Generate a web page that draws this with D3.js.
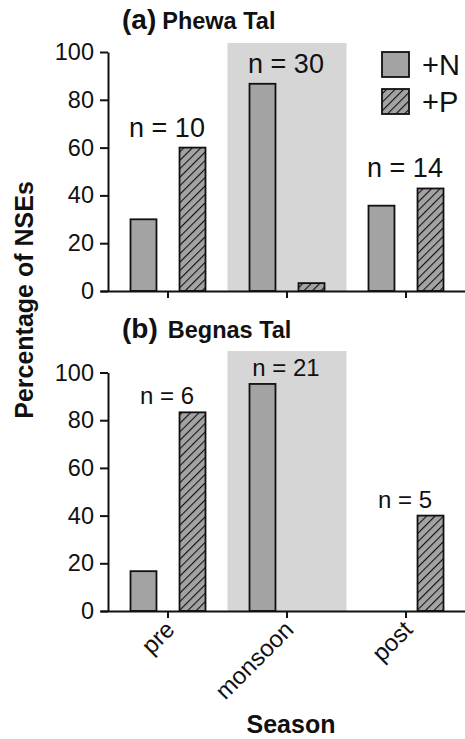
<!DOCTYPE html>
<html><head><meta charset="utf-8">
<script src="https://cdn.jsdelivr.net/npm/d3@7"></script>
<style>body{margin:0;background:#fff}svg{display:block;font-family:"Liberation Sans",Arial,sans-serif}</style>
</head><body>
<svg id="c" width="465" height="739"></svg>
<script>
const seasons = ["pre", "monsoon", "post"];
const series = ["+N", "+P"];
const phewaN = [30, 86.7, 35.7];
const phewaP = [60, 3.3, 42.9];
const phewaCounts = ["n = 10", "n = 30", "n = 14"];
const begnasN = [16.7, 95.2, 0];
const begnasP = [83.3, 0, 40];
const begnasCounts = ["n = 6", "n = 21", "n = 5"];
const yTicks = [0, 20, 40, 60, 80, 100];

const svg = d3.select("#c");
const defs = svg.append("defs");
const pat = defs.append("pattern").attr("id","hatch").attr("patternUnits","userSpaceOnUse")
  .attr("width",6).attr("height",6).attr("patternTransform","rotate(45)");
pat.append("rect").attr("width",6).attr("height",6).attr("fill","#a3a3a3");
pat.append("line").attr("x1",0).attr("y1",0).attr("x2",0).attr("y2",6).attr("stroke","#111").attr("stroke-width",2.2);

const x = d3.scaleBand().domain(seasons).range([108.5, 465.5]);
const sub = d3.scaleBand().domain(series).range([-37.5, 37.5]).paddingInner(0.47);

const panels = [
  {title:"(a)", name:"Phewa Tal", N:phewaN, P:phewaP, counts:phewaCounts, y0:291, y1:52, titleY:29, shadeTop:43, nSize:27, nGap:11, gap:6},
  {title:"(b)", name:"Begnas Tal", N:begnasN, P:begnasP, counts:begnasCounts, y0:611, y1:372.5, titleY:338, shadeTop:351, nSize:24, nGap:8, gap:10}
];

panels.forEach((p, pi) => {
  const y = d3.scaleLinear().domain([0,100]).range([p.y0, p.y1]);
  const g = svg.append("g");
  g.append("rect").attr("x", x("monsoon")).attr("width", x.bandwidth())
    .attr("y", p.shadeTop).attr("height", p.y0 - p.shadeTop).attr("fill","#d6d6d6");
  seasons.forEach((s, i) => {
    const vals = [p.N[i], p.P[i]];
    vals.forEach((v, j) => {
      if (v <= 0) return;
      g.append("rect")
        .attr("x", x(s) + x.bandwidth()/2 + sub(series[j]))
        .attr("width", sub.bandwidth())
        .attr("y", y(v)).attr("height", y(0) - y(v))
        .attr("fill", j === 0 ? "#a3a3a3" : "url(#hatch)")
        .attr("stroke", "#111").attr("stroke-width", 1.8);
    });
    const top = Math.max(p.N[i], p.P[i]);
    g.append("text").attr("x", x(s) + x.bandwidth()/2 - 1).attr("y", y(top) - p.nGap)
      .attr("text-anchor","middle").attr("font-size", p.nSize).attr("fill","#111").text(p.counts[i]);
  });
  const ya = g.append("g").attr("transform", "translate(108,0)")
    .call(d3.axisLeft(y).tickValues(yTicks).tickSize(8).tickPadding(6).tickSizeOuter(0));
  ya.selectAll("text").attr("font-size", 23.5).attr("fill","#111").attr("font-family","Liberation Sans, Arial, sans-serif");
  ya.selectAll("line,path").attr("stroke","#111").attr("stroke-width",2);
  const xa = g.append("g").attr("transform", `translate(0,${p.y0})`)
    .call(d3.axisBottom(x).tickSize(7).tickSizeOuter(0).tickFormat(pi === 1 ? (d => d) : () => ""));
  xa.select("path").attr("d", `M101,0.5H465`);
  xa.selectAll("line,path").attr("stroke","#111").attr("stroke-width",2);
  if (pi === 1) {
    xa.selectAll("text").attr("font-size", 24).attr("fill","#111")
      .attr("font-family","Liberation Sans, Arial, sans-serif")
      .attr("text-anchor","end").attr("dy", null).attr("y", 0)
      .attr("transform","translate(8,20) rotate(-45)");
  } else {
    xa.selectAll("text").remove();
  }
  const t = g.append("text").attr("x", 122).attr("y", p.titleY).attr("font-weight","bold").attr("fill","#111");
  t.append("tspan").attr("font-size", 28).text(p.title);
  t.append("tspan").attr("font-size", 23.5).attr("dx", p.gap).text(p.name);
});

const leg = svg.append("g");
series.forEach((s, j) => {
  const ly = 52 + j * 37;
  leg.append("rect").attr("x", 382).attr("y", ly).attr("width", 27).attr("height", 25)
    .attr("fill", j === 0 ? "#a3a3a3" : "url(#hatch)").attr("stroke","#111").attr("stroke-width",1.8);
  leg.append("text").attr("x", 422).attr("y", ly + 23).attr("font-size", 29).attr("fill","#111").text(s);
});

svg.append("text").attr("transform","translate(33,300) rotate(-90)").attr("text-anchor","middle")
  .attr("font-weight","bold").attr("font-size",25).attr("fill","#111").text("Percentage of NSEs");
svg.append("text").attr("x", 291).attr("y", 733).attr("text-anchor","middle")
  .attr("font-weight","bold").attr("font-size",25).attr("fill","#111").text("Season");
</script>
</body></html>
